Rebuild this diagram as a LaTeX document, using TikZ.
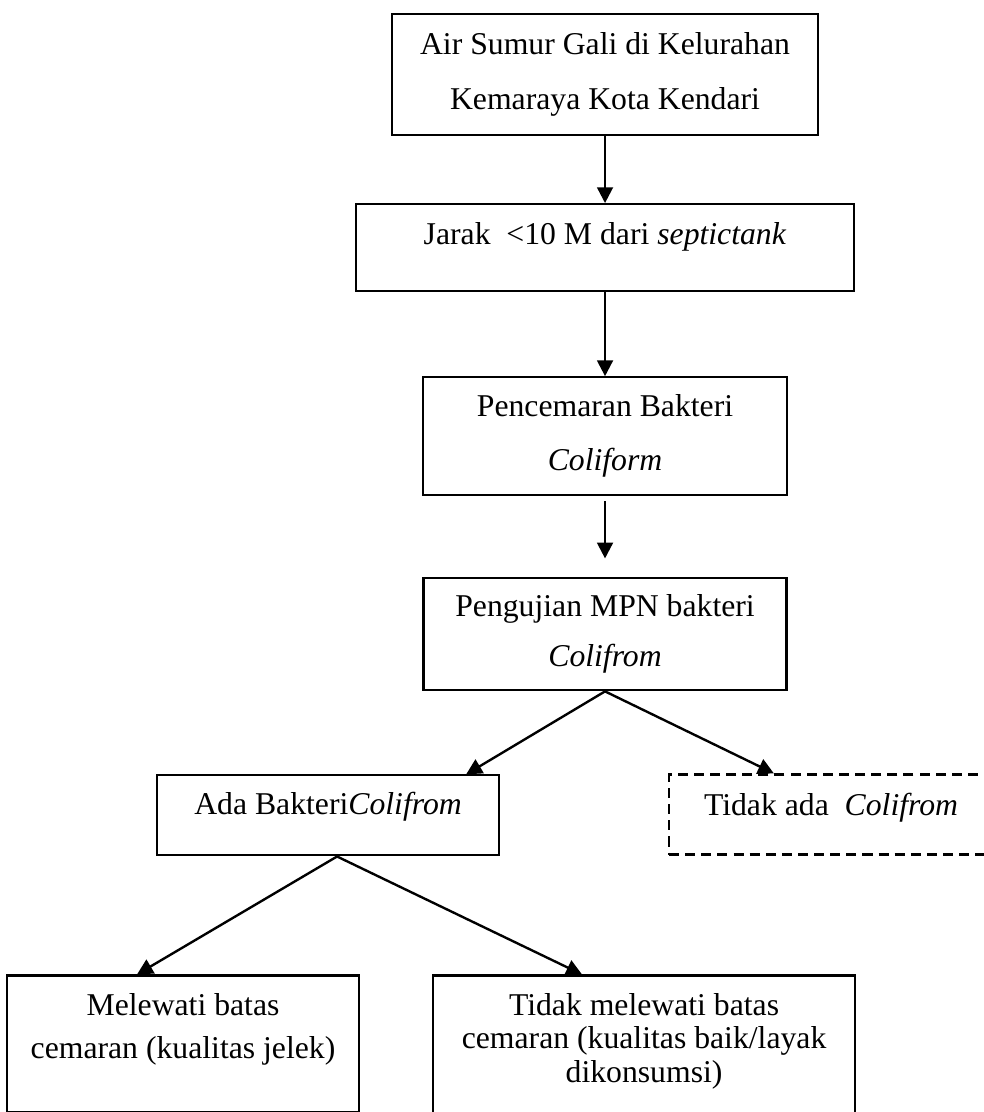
\documentclass[tikz,border=0pt]{standalone}
\usepackage{fontspec}
\setmainfont{Liberation Serif}
\usepackage{tikz}
\usetikzlibrary{arrows.meta, positioning}
\tikzset{
  box/.style={rectangle, draw=black, line width=0.8pt, align=center, inner xsep=2pt, inner ysep=0pt, font=\fontsize{12}{14.4}\selectfont},
  dashbox/.style={box, dash pattern=on 3.8pt off 2.3pt, line width=0.9pt},
  arrow/.style={-{Triangle[length=0.21cm, width=0.21cm]}, line width=0.9pt},
}
\begin{document}
\begin{tikzpicture}
  \useasboundingbox (0,0) rectangle (13.087,-14.790);
  \node[box, anchor=north, minimum width=5.666cm, minimum height=1.609cm] (air) at (8.047,-0.173) {Air Sumur Gali di Kelurahan\\[6.4pt]Kemaraya Kota Kendari};
  \node[box, below=0.891cm of air, minimum width=6.623cm, text height=0.532cm, text depth=0.625cm] (jarak) {Jarak\ \ <10 M dari \textit{septictank}};
  \node[box, below=1.117cm of jarak, minimum width=4.841cm, minimum height=1.569cm] (cemar) {Pencemaran Bakteri\\[6pt]\textit{Coliform}};
  \node[box, below=1.077cm of cemar, minimum width=4.828cm, minimum height=1.490cm] (uji) {Pengujian MPN bakteri\\[4.5pt]\textit{Colifrom}};
  \node[box, below=1.104cm of uji, xshift=-3.684cm, minimum width=4.549cm, text height=0.519cm, text depth=0.545cm] (ada) {Ada Bakteri\textit{Colifrom}};
  \node[dashbox, below=1.091cm of uji, xshift=3.006cm, minimum width=4.309cm, text height=0.545cm, text depth=0.519cm] (tidakada) {Tidak ada\ \ \textit{Colifrom}};
  \node[box, below=1.569cm of ada, xshift=-1.929cm, minimum width=4.682cm, minimum height=1.822cm] (lewat) {Melewati batas\\[1.9pt]cemaran (kualitas jelek)\\[-0.9pt]\mbox{}};
  \node[box, below=1.569cm of ada, xshift=4.203cm, minimum width=5.613cm, minimum height=1.995cm] (taklewat) {Tidak melewati batas\\[-1.8pt]cemaran (kualitas baik/layak\\[-1.8pt]dikonsumsi)\\[-4.9pt]\mbox{}};

  \draw[arrow] (air) -- (jarak);
  \draw[arrow] (jarak) -- (cemar);
  \draw[arrow, shorten <=0.067cm, shorten >=0.25cm] (cemar) -- (uji);
  \draw[arrow] (uji.south) -- ([xshift=-0.452cm]ada.north east);
  \draw[arrow] (uji.south) -- ([xshift=1.41cm]tidakada.north west);
  \draw[arrow] ([xshift=0.12cm]ada.south) -- ([xshift=-0.612cm]lewat.north);
  \draw[arrow] ([xshift=0.12cm]ada.south) -- ([xshift=-0.825cm]taklewat.north);
\end{tikzpicture}
\end{document}
